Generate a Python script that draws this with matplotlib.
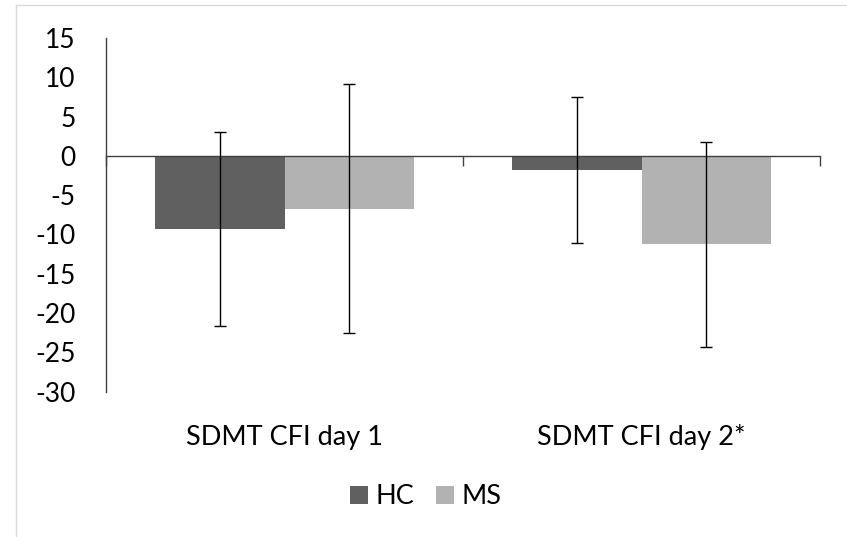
import matplotlib.pyplot as plt
from matplotlib.lines import Line2D
from matplotlib.patches import Patch
import matplotlib.transforms as mtransforms
import numpy as np

plt.rcParams["font.family"] = ["Lato", "DejaVu Sans"]
plt.rcParams["axes.unicode_minus"] = False

categories = ["SDMT CFI day 1", "SDMT CFI day 2*"]
groups = ["HC", "MS"]
hc_mean = [-9.3, -1.8]
hc_err = [12.35, 9.3]
ms_mean = [-6.7, -11.25]
ms_err = [15.85, 13.05]
colors = ["#606060", "#b2b2b2"]
y_ticks = [15, 10, 5, 0, -5, -10, -15, -20, -25, -30]

W, H = 847, 537
fig = plt.figure(figsize=(W / 100, H / 100), dpi=100)
ax = fig.add_axes([106 / W, 1 - 391.7 / H, (820 - 106) / W, (391.7 - 37.9) / H])

x = np.arange(len(categories))
bw = 0.364
for off, means, errs, c in [(-bw / 2, hc_mean, hc_err, colors[0]),
                            (bw / 2, ms_mean, ms_err, colors[1])]:
    ax.bar(x + off, means, width=bw, color=c, zorder=2)
    ax.errorbar(x + off, means, yerr=errs, fmt="none", ecolor="black",
                elinewidth=1.0, capsize=4.5, capthick=1.0, zorder=4)

ax.set_xlim(-0.5, 1.5)
ax.set_ylim(-30, 15)
ax.set_yticks(y_ticks)
ax.tick_params(axis="y", length=0, pad=22, labelsize=19)

for s in ["top", "right"]:
    ax.spines[s].set_visible(False)
ax.spines["left"].set_color("#404040")
ax.spines["left"].set_linewidth(1.0)
ax.spines["bottom"].set_position(("data", 0))
ax.spines["bottom"].set_color("#404040")
ax.spines["bottom"].set_linewidth(1.0)
ax.spines["bottom"].set_zorder(3)
ax.set_xticks([-0.5, 0.5, 1.5])
ax.set_xticklabels([])
ax.tick_params(axis="x", direction="out", length=7, width=1.0, color="#404040")

trans = mtransforms.blended_transform_factory(ax.transData, fig.transFigure)
for xi, lab in zip(x, categories):
    ax.text(xi, 1 - 437 / H, lab, transform=trans, ha="center", va="center",
            fontsize=19.5)

handles = [Patch(facecolor=c, edgecolor="none") for c in colors]
fig.legend(handles, groups, loc="center", bbox_to_anchor=(426 / W, 1 - 497 / H),
           ncol=2, frameon=False, fontsize=19.5, handlelength=0.65, handleheight=0.65,
           handletextpad=0.3, columnspacing=0.8)

# light chart border (left and top)
fig.add_artist(Line2D([16 / W, 16 / W], [0, 1 - 5 / H], color="#d9d9d9", lw=1.0))
fig.add_artist(Line2D([16 / W, 1], [1 - 5 / H, 1 - 5 / H], color="#d9d9d9", lw=1.0))

fig.savefig("out.png", dpi=100)
